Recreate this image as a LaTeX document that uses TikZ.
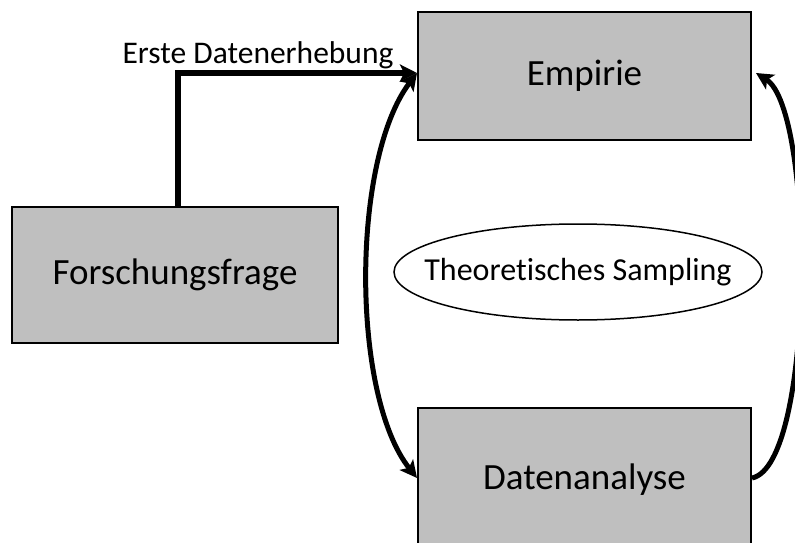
\documentclass[tikz,border=0pt]{standalone}
\usepackage{fontspec}
\setmainfont{Carlito}[Ligatures=NoCommon]
\usetikzlibrary{arrows.meta,shapes.geometric}
\definecolor{boxgray}{RGB}{191,191,191}
\begin{document}
\begin{tikzpicture}[x=1pt,y=-1pt,
  box/.style={draw=black,line width=2pt,fill=boxgray,inner sep=0pt,
    font=\fontsize{37}{42}\selectfont},
  flow/.style={line width=6pt,-{Stealth[length=17pt,width=17pt,inset=4pt]}},
  curve/.style={line width=5pt,-{Stealth[length=17pt,width=17pt,inset=4pt]}},
  both/.style={line width=5pt,{Stealth[length=17pt,width=17pt,inset=4pt]}-{Stealth[length=17pt,width=17pt,inset=4pt]}}]
\useasboundingbox (0,0) rectangle (795,543);
\begin{scope}
\clip (0,0) rectangle (795,543);
\node[box,minimum width=333pt,minimum height=128pt] (emp) at (584.5,76) {Empirie};
\node[box,minimum width=333pt,minimum height=140pt] (dat) at (584.5,478) {};
\node[font=\fontsize{37}{42}\selectfont] (datlabel) at ([yshift=-2pt]dat.center) {Datenanalyse};
\node[box,minimum width=326pt,minimum height=136pt] (fq) at (175,275) {Forschungsfrage};
\node[draw=black,line width=1.5pt,ellipse,minimum width=368pt,minimum height=96pt,inner sep=0pt] (ts) at (578,272) {};
\node[font=\fontsize{32}{36}\selectfont] (tslabel) at (ts.center) {Theoretisches Sampling};
\node[font=\fontsize{31.5}{36}\selectfont] (lbl) at (258,55) {Erste Datenerhebung};
% first data collection: question -> empirical work
\draw[flow] ([xshift=3pt]fq.north) |- ([yshift=3pt]emp.west);
% iteration between empirical work and analysis
\draw[both] ([yshift=3pt]emp.west) .. controls (351,160) and (351,395) .. (dat.west);
\draw[curve] (dat.east) .. controls (815,465) and (815,110) .. ([xshift=4pt,yshift=3pt]emp.east);
\end{scope}
\end{tikzpicture}
\end{document}
